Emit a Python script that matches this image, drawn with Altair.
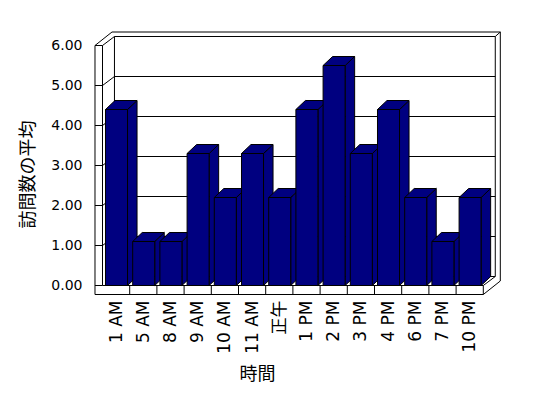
import json
import altair as alt
import pandas as pd

# ---- data ----
categories = ["1 AM", "5 AM", "8 AM", "9 AM", "10 AM", "11 AM", "正午",
              "1 PM", "2 PM", "3 PM", "4 PM", "6 PM", "7 PM", "10 PM"]
values = [4.4, 1.1, 1.1, 3.3, 2.2, 3.3, 2.2, 4.4, 5.5, 3.3, 4.4, 2.2, 1.1, 2.2]
y_ticks = [0, 1, 2, 3, 4, 5, 6]
y_title = "訪問数の平均"
x_title = "時間"

n = len(categories)
ymax = y_ticks[-1]

# ---- 3-D look (in category / value units) ----
BAR_L, BAR_R = 0.11, 0.92      # bar front face inside its category slot
BDU, BDV = 0.35, 0.225         # bar depth
IDU, IDV = 0.44, 0.225         # wall inner depth
ODU, ODV = 0.625, 0.3375       # wall outer depth
WALL = 0.276                   # left wall thickness
FT = 0.225                     # floor thickness

NAVY = "#000080"

xscale = alt.Scale(domain=[-0.3125, 14.761], nice=False, zero=False)
yscale = alt.Scale(domain=[-0.2625, 6.3875], nice=False, zero=False)

labels_js = json.dumps(categories, ensure_ascii=False)
xaxis = alt.Axis(
    values=[i + 0.5 for i in range(n)],
    labelExpr=f"{labels_js}[floor(datum.value)]",
    labelAngle=270, labelAlign="right", labelBaseline="middle",
    labelPadding=4, labelFont="DejaVu Sans, Noto Sans CJK JP", labelFontSize=17,
    labelColor="black", labelOverlap=False, labelFlush=False,
    domain=False, ticks=False, tickSize=0, grid=False,
    title=x_title, titleFont="Noto Sans CJK JP", titleFontSize=18,
    titleFontWeight="normal", titleColor="black",
    titleX=163, titleY=78, titleAlign="center", titleBaseline="middle",
)
yaxis = alt.Axis(
    values=y_ticks, format=".2f",
    labelPadding=12, labelFont="DejaVu Sans", labelFontSize=14,
    labelColor="black", labelOverlap=False, labelFlush=False,
    domain=False, ticks=False, tickSize=0, grid=False,
    title=y_title, titleFont="Noto Sans CJK JP", titleFontSize=18,
    titleFontWeight="normal", titleColor="black", titleAngle=270,
    titleX=-66, titleY=144, titleAlign="center", titleBaseline="middle",
)


def X(f):
    return alt.X(f"{f}:Q", scale=xscale, axis=xaxis)


def Y(f):
    return alt.Y(f"{f}:Q", scale=yscale, axis=yaxis)


# ---- frame: walls, floor, gridlines ----
L = -WALL
segs = [
    # left wall
    (L, ymax, L, -FT), (0, ymax, 0, 0), (L, ymax, 0, ymax),
    (L, ymax, L + ODU, ymax + ODV), (0, ymax, IDU, ymax + IDV),
    # back wall
    (IDU, ymax + IDV, n + IDU, ymax + IDV), (IDU, ymax + IDV, IDU, IDV),
    (n + IDU, ymax + IDV, n + IDU, IDV),
    (L + ODU, ymax + ODV, n + ODU, ymax + ODV),
    (n + ODU, ymax + ODV, n + ODU, -FT + ODV),
    (n + IDU, ymax + IDV, n + ODU, ymax + ODV),
    # floor
    (0, 0, n, 0), (L, -FT, n, -FT), (n, 0, n, -FT),
    (n, 0, n + IDU, IDV), (n, -FT, n + ODU, -FT + ODV),
    (IDU, IDV, n + IDU, IDV), (L, 0, 0, 0),
]
for k in y_ticks[1:-1]:
    segs.append((IDU, k + IDV, n + IDU, k + IDV))
    segs.append((0, k, IDU, k + IDV))
    segs.append((L, k, 0, k))
for k in range(1, n):
    segs.append((k, 0, k, -FT))
seg_df = pd.DataFrame(segs, columns=["x1", "y1", "x2", "y2"])

# ---- bars ----
bar_df = pd.DataFrame({
    "bar": list(range(n)),
    "xl": [i + BAR_L for i in range(n)],
    "xr": [i + BAR_R for i in range(n)],
    "zero": [0.0] * n,
    "v": values,
})
side_rows, top_rows = [], []
for i, v in enumerate(values):
    xr = i + BAR_R
    xl = i + BAR_L
    side_rows.append({"bar": i, "xx": xr, "lo": 0.0, "hi": v})
    side_rows.append({"bar": i, "xx": xr + BDU, "lo": BDV, "hi": v + BDV})
    top_rows.append({"bar": i, "yy": v, "xa": xl, "xb": xr})
    top_rows.append({"bar": i, "yy": v + BDV, "xa": xl + BDU, "xb": xr + BDU})
side_df = pd.DataFrame(side_rows)
top_df = pd.DataFrame(top_rows)

frame = alt.Chart(seg_df).mark_rule(color="black", strokeWidth=1).encode(
    x=X("x1"), y=Y("y1"), x2="x2:Q", y2="y2:Q"
)
sides = alt.Chart(side_df).mark_area(
    fill=NAVY, stroke="black", strokeWidth=1, interpolate="linear", opacity=1
).encode(x=X("xx"), y=Y("hi"), y2="lo:Q", detail="bar:N")
tops = alt.Chart(top_df).mark_area(
    orient="horizontal", fill=NAVY, stroke="black", strokeWidth=1,
    interpolate="linear", opacity=1
).encode(y=Y("yy"), x=X("xa"), x2="xb:Q", detail="bar:N")
fronts = alt.Chart(bar_df).mark_rect(
    fill=NAVY, stroke="black", strokeWidth=1
).encode(x=X("xl"), x2="xr:Q", y=Y("zero"), y2="v:Q")

chart = alt.layer(frame, sides, tops, fronts).properties(
    width=410, height=266,
    autosize=alt.AutoSizeParams(type="none"),
    padding={"left": 94, "top": 30, "right": 44, "bottom": 102},
    background="white",
).configure_view(strokeWidth=0)

chart.save("out.html", embed_options={"renderer": "svg", "actions": False})
